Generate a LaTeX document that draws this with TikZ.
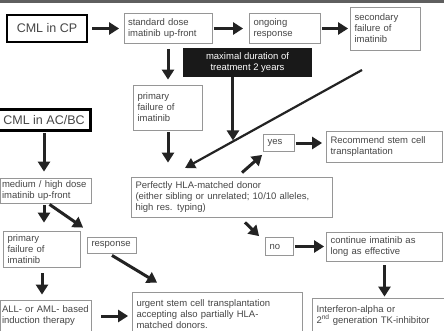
\documentclass[tikz,border=0pt]{standalone}
\usepackage{fontspec}
\setmainfont{Liberation Sans}
\usetikzlibrary{arrows.meta,calc}
\definecolor{boxGray}{RGB}{150,150,150}
\definecolor{textGray}{RGB}{70,70,70}
\definecolor{arrowDark}{RGB}{35,35,35}
\definecolor{limitBlack}{RGB}{25,25,25}
\definecolor{topGray}{RGB}{95,95,95}

\begin{document}
\begin{tikzpicture}[x=1pt, y=-1pt]
            % Styles
            \tikzstyle{box} = [rectangle, draw=boxGray, line width=0.8pt, fill=white, text=textGray, align=left, inner xsep=4pt, inner ysep=2pt, font=\fontsize{9.5}{11}\selectfont]
            \tikzstyle{stage} = [rectangle, draw=black, line width=2.6pt, fill=white, text=textGray, inner sep=0pt, font=\fontsize{12.5}{14}\selectfont]
            \tikzstyle{limit} = [rectangle, fill=limitBlack, text=white, align=center, font=\fontsize{9.5}{11}\selectfont]
            \tikzstyle{arrow} = [-{Triangle[length=10pt,width=12pt]}, line width=3pt, draw=arrowDark]
            \tikzstyle{thinarrow} = [-{Triangle[length=10pt,width=11pt]}, line width=2.2pt, draw=arrowDark]

            % Frame
            \useasboundingbox (0,0) rectangle (444,330);
            \clip (0,0) rectangle (444,330);
            \fill[white] (0,0) rectangle (444,330);
            \fill[topGray] (0,0) rectangle (444,3);

            % Nodes - chronic phase (pixel coordinates)
            \node[stage, minimum width=80pt, minimum height=27pt] (cp) at (47,28.5) {CML in CP};
            \node[box, text width=80pt, minimum height=30pt] (std) at (168,28.5) {standard dose\\imatinib up-front};
            \node[box, text width=63pt, minimum height=30pt] (ongoing) at (285,28.5) {ongoing\\response};
            \node[box, text width=62pt, minimum height=43pt] (second) at (385.5,28.5) {secondary\\failure of\\imatinib};
            \node[limit, minimum width=129pt, minimum height=29pt] (maxdur) at (247.5,62.5) {maximal duration of\\treatment 2 years};
            \node[box, text width=61pt, minimum height=45pt] (prim1) at (168,107.5) {primary\\failure of\\imatinib};
            \node[box, text width=193pt, minimum height=40pt] (hla) at (232,197) {Perfectly HLA-matched donor\\(either sibling or unrelated; 10/10 alleles,\\high res. typing)};
            \node[box, text width=23pt, minimum height=17pt] (yes) at (279,143) {yes};
            \node[box, text width=108pt, minimum height=31pt] (rec) at (384.5,146.5) {Recommend stem cell\\transplantation};
            \node[box, text width=20pt, minimum height=18pt] (no) at (279.5,246.5) {no};
            \node[box, text width=108pt, minimum height=29pt] (cont) at (384.5,246.5) {continue imatinib as\\long as effective};
            \node[box, text width=131pt, minimum height=35pt] (ifn) at (382,315.5) {Interferon-alpha or\\2\textsuperscript{nd} generation TK-inhibitor};

            % Nodes - accelerated phase / blast crisis
            \node[stage, minimum width=93pt, minimum height=21pt] (acbc) at (44,120) {CML in AC/BC};
            \node[box, inner xsep=2pt, text width=87pt, minimum height=25pt] (med) at (45.5,190.5) {medium / high dose\\imatinib up-front};
            \node[box, text width=69pt, minimum height=36pt] (prim2) at (42,249) {primary\\failure of\\imatinib};
            \node[box, text width=41pt, minimum height=16pt] (resp) at (112,245) {response};
            \node[box, inner xsep=2pt, text width=87pt, minimum height=32pt] (all) at (45.5,316) {ALL- or AML- based\\induction therapy};
            \node[box, text width=162pt, minimum height=44pt] (urgent) at (217.5,314) {urgent stem cell transplantation\\accepting also partially HLA-\\matched donors.};

            % Helper points on the long diagonal
            \coordinate (fail2) at (362,70);
            \coordinate (hlain) at (185,168);
            \coordinate (join) at ($(fail2)!0.729!(hlain)$);

            % Arrows
            \draw[arrow, shorten <=4pt, shorten >=4.5pt] (cp.east) -- (std.west);
            \draw[arrow, shorten <=1.5pt, shorten >=6pt] (std.east) -- (ongoing.west);
            \draw[arrow, shorten <=1pt, shorten >=2pt] (ongoing.east) -- (second.west);
            \draw[arrow, shorten <=5pt, shorten >=5pt] (std.south) -- (prim1.north);
            \draw[arrow, shorten >=1pt] (maxdur.south -| join) -- (join);
            \draw[thinarrow] (fail2) -- (hlain);
            \draw[arrow, shorten <=2pt, shorten >=14pt] (prim1.south) -- (prim1.south |- hla.north);
            \draw[arrow] ($(hla.north)+(10,-4)$) -- ($(yes.south west)+(-1,3)$);
            \draw[arrow, shorten <=1pt, shorten >=4pt] (yes.east) -- (yes.east -| rec.west);
            \draw[arrow] ($(hla.south)+(13,5)$) -- ($(no.north west)+(-6,-1)$);
            \draw[arrow, shorten <=1pt, shorten >=2pt] (no.east) -- (no.east -| cont.west);
            \draw[arrow, shorten <=4pt, shorten >=1pt] (cont.south) -- (cont.south |- ifn.north);
            \draw[arrow, shorten <=1pt, shorten >=6pt] (acbc.south) -- (acbc.south |- med.north);
            \draw[arrow, shorten <=2pt, shorten >=8pt] (acbc.south |- med.south) -- (acbc.south |- prim2.north);
            \draw[arrow] ($(med.south)+(4,1)$) -- ($(resp.north west)+(-4,-9)$);
            \draw[arrow, shorten <=6pt, shorten >=5pt] (prim2.south) -- (prim2.south |- all.north);
            \draw[arrow] ($(resp.south)+(0,2)$) -- ($(urgent.north west)+(25,-9)$);
            \draw[arrow, shorten <=10pt, shorten >=4pt] (all.east) -- (all.east -| urgent.west);
        \end{tikzpicture}
\end{document}
